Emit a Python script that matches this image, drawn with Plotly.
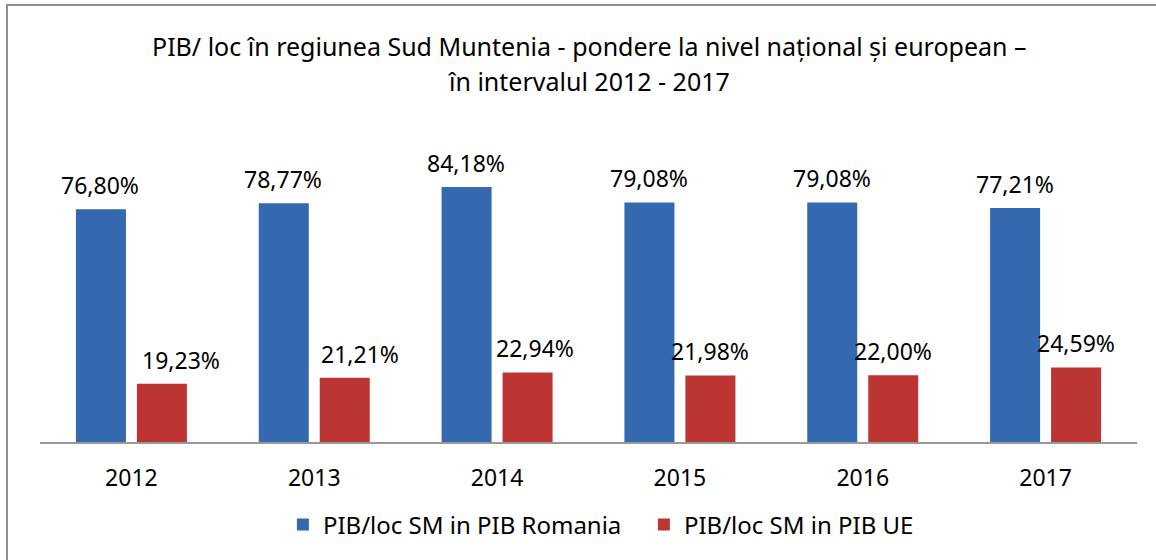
import plotly.graph_objects as go

years = ["2012", "2013", "2014", "2015", "2016", "2017"]
ro_share = [76.80, 78.77, 84.18, 79.08, 79.08, 77.21]
ue_share = [19.23, 21.21, 22.94, 21.98, 22.00, 24.59]
labels_ro = ["76,80%", "78,77%", "84,18%", "79,08%", "79,08%", "77,21%"]
labels_ue = ["19,23%", "21,21%", "22,94%", "21,98%", "22,00%", "24,59%"]
series_names = ["PIB/loc SM in PIB Romania", "PIB/loc SM in PIB UE"]
title_lines = ["PIB/ loc în regiunea Sud Muntenia - pondere la nivel național și european –",
               "în intervalul 2012 - 2017"]

FONT = "Noto Sans"
FS = 23
FT = 25
# horizontal nudges (px) of the UE data labels, as placed in the original
ue_label_nudge = [20, 16, 8, 0, 0, 0]

fig = go.Figure()
fig.add_trace(go.Bar(x=years, y=ro_share, name=series_names[0],
                     marker=dict(color="#3469B0", line=dict(width=0))))
fig.add_trace(go.Bar(x=years, y=ue_share, name=series_names[1],
                     marker=dict(color="#BC3533", line=dict(width=0))))

annotations = []
for i, (v, t) in enumerate(zip(ro_share, labels_ro)):
    annotations.append(dict(x=i, y=v, text=t, showarrow=False, xref="x", yref="y",
                            xanchor="center", yanchor="bottom", xshift=-31, yshift=6,
                            font=dict(size=FS, family=FONT, color="#000")))
for i, (v, t) in enumerate(zip(ue_share, labels_ue)):
    annotations.append(dict(x=i, y=v, text=t, showarrow=False, xref="x", yref="y",
                            xanchor="center", yanchor="bottom",
                            xshift=30 + ue_label_nudge[i], yshift=6,
                            font=dict(size=FS, family=FONT, color="#000")))
annotations.append(dict(x=0.5, y=1.307, xref="paper", yref="paper", text=title_lines[0],
                        showarrow=False, xanchor="center", yanchor="middle",
                        font=dict(size=FT, family=FONT, color="#000")))
annotations.append(dict(x=0.5, y=1.19, xref="paper", yref="paper", text=title_lines[1],
                        showarrow=False, xanchor="center", yanchor="middle",
                        font=dict(size=FT, family=FONT, color="#000")))

fig.update_layout(
    width=1156, height=560,
    paper_bgcolor="white", plot_bgcolor="white",
    font=dict(family=FONT, size=FS, color="#000"),
    barmode="group", bargap=0.333, bargroupgap=0.18,
    margin=dict(l=40, r=19, t=139, b=118, autoexpand=False),
    xaxis=dict(type="category", range=[-0.5, 5.5], showline=True, linecolor="#999",
               linewidth=2, ticks="", tickfont=dict(size=FS, family=FONT),
               showgrid=False, ticklabelstandoff=14),
    yaxis=dict(range=[0, 100], visible=False, showgrid=False),
    showlegend=True,
    legend=dict(orientation="h", xref="container", yref="container",
                x=0.557, xanchor="center", y=0.0625, yanchor="middle",
                entrywidth=316, entrywidthmode="pixels",
                font=dict(size=24, family=FONT), traceorder="normal"),
    annotations=annotations,
    shapes=[dict(type="rect", xref="paper", yref="paper",
                 x0=-0.0301, x1=1.05, y0=-0.6, y1=1.442,
                 line=dict(color="#8c8c8c", width=2), layer="below")],
)
fig.write_html("out.html", config={"displayModeBar": False},
               post_script="document.body.style.margin='0';document.body.style.overflow='hidden';")
